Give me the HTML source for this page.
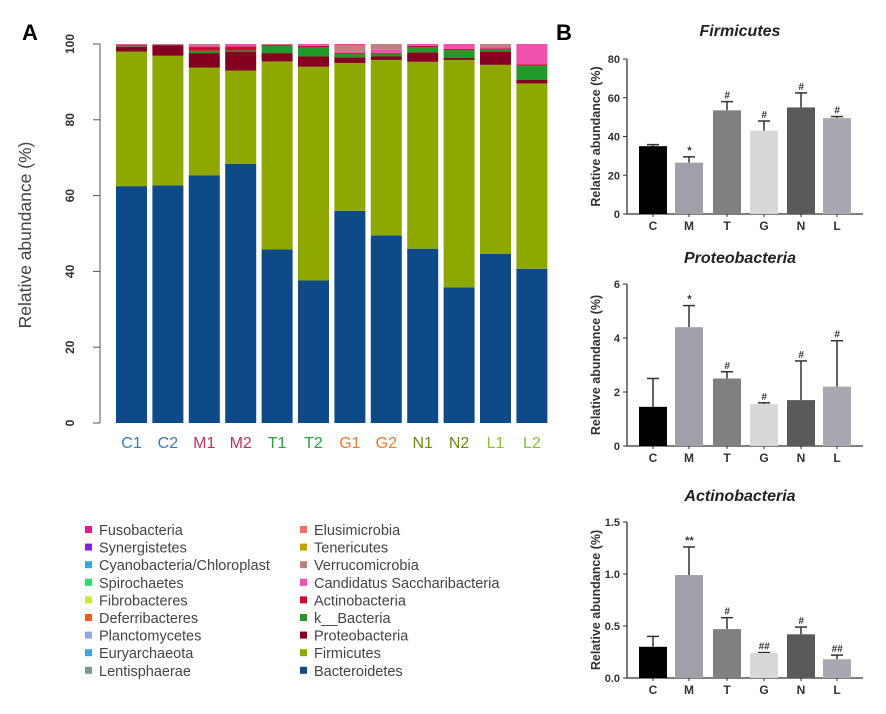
<!DOCTYPE html>
<html><head><meta charset="utf-8">
<style>
html,body{margin:0;padding:0;background:#fff;}
svg{display:block;font-family:"Liberation Sans",Arial,sans-serif;}
</style></head>
<body>
<svg id="fig" width="886" height="714" viewBox="0 0 886 714" xmlns="http://www.w3.org/2000/svg">
<text x="22" y="40" font-size="22" font-weight="bold">A</text>
<text x="556" y="40" font-size="22" font-weight="bold">B</text>
<g id="stack"></g>
<g id="legend"></g>
<g id="b1"></g>
<g id="b2"></g>
<g id="b3"></g>
</svg>
<script>
const NS="http://www.w3.org/2000/svg";
// ---- Panel A data ----
const samples=["C1","C2","M1","M2","T1","T2","G1","G2","N1","N2","L1","L2"];
const sampleColors=["#3a7ab8","#3a7ab8","#c0305a","#c0305a","#2aa040","#2aa040","#f07830","#f07830","#6a8a10","#6a8a10","#8cc030","#8cc030"];
const bacteroidetes=[62.5,62.7,65.3,68.4,45.8,37.6,56,49.5,46,35.8,44.6,40.7];
const firmicutes=[35.5,34.2,28.5,24.6,49.6,56.4,39,46.3,49.3,60,49.9,48.9];
const proteobacteria=[1.2,2.8,3.8,5,2.2,2.7,1.5,0.9,2.5,0.5,3.5,0.9];
const kBacteria=[0.2,0.1,0.6,0.3,2,2.3,0.9,0.8,1.3,2.1,0.5,3.8];
const actinobacteria=[0.3,0.1,1,1.1,0.2,0.5,0.3,0.2,0.4,0.3,0.3,0.3];
const candidatus=[0.3,0.1,0.4,0.6,0.2,0.5,0.3,0.8,0.5,1.3,0.4,5.4];
const verrucomicrobia=[0,0,0.4,0,0,0,1.8,1.5,0,0,0.8,0];
const stackSeries=[bacteroidetes,firmicutes,proteobacteria,kBacteria,actinobacteria,candidatus,verrucomicrobia];
const stackNames=["bacteroidetes","firmicutes","proteobacteria","k-bacteria","actinobacteria","candidatus-saccharibacteria","verrucomicrobia"];
const stackColors=["#0d4a87","#8fa800","#850020","#219a2a","#c8102e","#f050b0","#c08080"];
const aTicks=[0,20,40,60,80,100];
const legendLeft=["Fusobacteria","Synergistetes","Cyanobacteria/Chloroplast","Spirochaetes","Fibrobacteres","Deferribacteres","Planctomycetes","Euryarchaeota","Lentisphaerae"];
const legendLeftColors=["#e8168c","#7a22e8","#2aa8f0","#22e070","#c0f030","#f05a20","#90a8e0","#30a8f0","#7a9890"];
const legendRight=["Elusimicrobia","Tenericutes","Verrucomicrobia","Candidatus Saccharibacteria","Actinobacteria","k__Bacteria","Proteobacteria","Firmicutes","Bacteroidetes"];
const legendRightColors=["#f07060","#c8a000","#c08080","#f050b0","#c8102e","#219a2a","#850020","#8fa800","#0d4a87"];
// ---- Panel B data ----
const groups=["C","M","T","G","N","L"];
const groupColors=["#000000","#a0a0a8","#808080","#d8d8d8","#5a5a5a","#a8a8b0"];
const firmMean=[35,26.5,53.5,43,55,49.5];
const firmErr=[0.8,3,4.5,5,7.5,0.8];
const firmSig=["","*","#","#","#","#"];
const firmTicks=[0,20,40,60,80];
const proteoMean=[1.45,4.4,2.5,1.55,1.7,2.2];
const proteoErr=[1.05,0.8,0.25,0.05,1.45,1.7];
const proteoSig=["","*","#","#","#","#"];
const proteoTicks=[0,2,4,6];
const actinoMean=[0.3,0.99,0.47,0.24,0.42,0.18];
const actinoErr=[0.1,0.27,0.11,0.005,0.07,0.04];
const actinoSig=["","**","#","##","#","##"];
const actinoTicks=[0,0.5,1.0,1.5];
const actinoTickLabels=["0.0","0.5","1.0","1.5"];

function el(tag,attrs,parent,text){const e=document.createElementNS(NS,tag);for(const k in attrs)e.setAttribute(k,attrs[k]);if(text!==undefined)e.textContent=text;parent.appendChild(e);return e;}

// ---- Panel A ----
const A=document.getElementById('stack');
const ay=v=>423-v*(423-44)/100;
const ax=i=>116+i*36.4;
const bw=31;
el('line',{x1:100,y1:ay(0),x2:100,y2:ay(100),stroke:'#555','stroke-width':1},A);
aTicks.forEach(t=>{
  el('line',{x1:93,y1:ay(t),x2:100,y2:ay(t),stroke:'#555'},A);
  const tx=el('text',{x:0,y:0,'font-size':12,'font-weight':'bold',fill:'#333','text-anchor':'middle',transform:`translate(74,${ay(t)}) rotate(-90)`},A,String(t));
  
  
});
{const t=el('text',{x:0,y:0,'font-size':17.5,fill:'#444','text-anchor':'middle',transform:'translate(31,235) rotate(-90)'},A,'Relative abundance (%)');
}
samples.forEach((s,i)=>{
  let base=0;
  stackSeries.forEach((ser,k)=>{
    const v=ser[i];
    if(v<=0)return;
    const r=el('rect',{x:ax(i),y:ay(base+v),width:bw,height:ay(base)-ay(base+v),fill:stackColors[k]},A);
    
    
    base+=v;
  });
  if(base<100){const r=el('rect',{x:ax(i),y:ay(100),width:bw,height:ay(base)-ay(100),fill:'#e8168c'},A);
    }
  const t=el('text',{x:ax(i)+bw/2,y:448,'font-size':16,fill:sampleColors[i],'text-anchor':'middle'},A,s);
  
});

// ---- Legend ----
const L=document.getElementById('legend');
function legCol(names,cols,sx){
  names.forEach((n,i)=>{
    const y=530+i*17.6;
    const r=el('rect',{x:sx,y:y-4,width:7,height:7,fill:cols[i]},L);
    
    const t=el('text',{x:sx+14,y:y+5,'font-size':14.5,fill:'#444'},L,n);
    
  });
}
legCol(legendLeft,legendLeftColors,85);
legCol(legendRight,legendRightColors,300);

// ---- Panel B ----
function barChart(id,title,titleY,top,bottom,maxV,ticks,tickLabels,means,errs,sigs){
  const G=document.getElementById(id);
  const yy=v=>bottom-v*(bottom-top)/maxV;
  const bx=[639,675,713,750,787,823];
  const w=28;
  const tt=el('text',{x:740,y:titleY,'font-size':16,'font-weight':'bold','font-style':'italic','text-anchor':'middle',fill:'#222'},G,title);
  
  el('line',{x1:627,y1:top,x2:627,y2:bottom,stroke:'#333','stroke-width':1.3},G);
  el('line',{x1:627,y1:bottom,x2:863,y2:bottom,stroke:'#333','stroke-width':1.3},G);
  ticks.forEach((t,i)=>{
    el('line',{x1:623,y1:yy(t),x2:627,y2:yy(t),stroke:'#333'},G);
    const l=el('text',{x:620,y:yy(t)+4,'font-size':11,'font-weight':'bold','text-anchor':'end',fill:'#333'},G,tickLabels?tickLabels[i]:String(t));
    
  });
  const yt=el('text',{x:0,y:0,'font-size':12.5,'font-weight':'bold','text-anchor':'middle',fill:'#333',transform:`translate(600,${(top+bottom)/2}) rotate(-90)`},G,'Relative abundance (%)');
  
  groups.forEach((g,i)=>{
    const x=bx[i],cx=x+w/2;
    const eTop=yy(means[i]+errs[i]);
    el('line',{x1:cx,y1:yy(means[i]),x2:cx,y2:eTop,stroke:'#333','stroke-width':1.5},G);
    el('line',{x1:cx-6,y1:eTop,x2:cx+6,y2:eTop,stroke:'#333','stroke-width':1.5},G);
    const r=el('rect',{x:x,y:yy(means[i]),width:w,height:bottom-yy(means[i]),fill:groupColors[i]},G);
    
    el('line',{x1:cx,y1:bottom,x2:cx,y2:bottom+3,stroke:'#333'},G);
    if(sigs[i]){const s=el('text',{x:cx,y:eTop-3,'font-size':sigs[i].includes('*')?11:10,'font-weight':'bold','font-style':'italic','text-anchor':'middle',fill:'#333'},G,sigs[i]);
      }
    const l=el('text',{x:cx,y:bottom+16,'font-size':12,'font-weight':'bold','text-anchor':'middle',fill:'#333'},G,g);
    
  });
}
barChart('b1','Firmicutes',36,59,214,80,firmTicks,null,firmMean,firmErr,firmSig);
barChart('b2','Proteobacteria',263,284,446,6,proteoTicks,null,proteoMean,proteoErr,proteoSig);
barChart('b3','Actinobacteria',501,522,678,1.5,actinoTicks,actinoTickLabels,actinoMean,actinoErr,actinoSig);
</script>
</body></html>
